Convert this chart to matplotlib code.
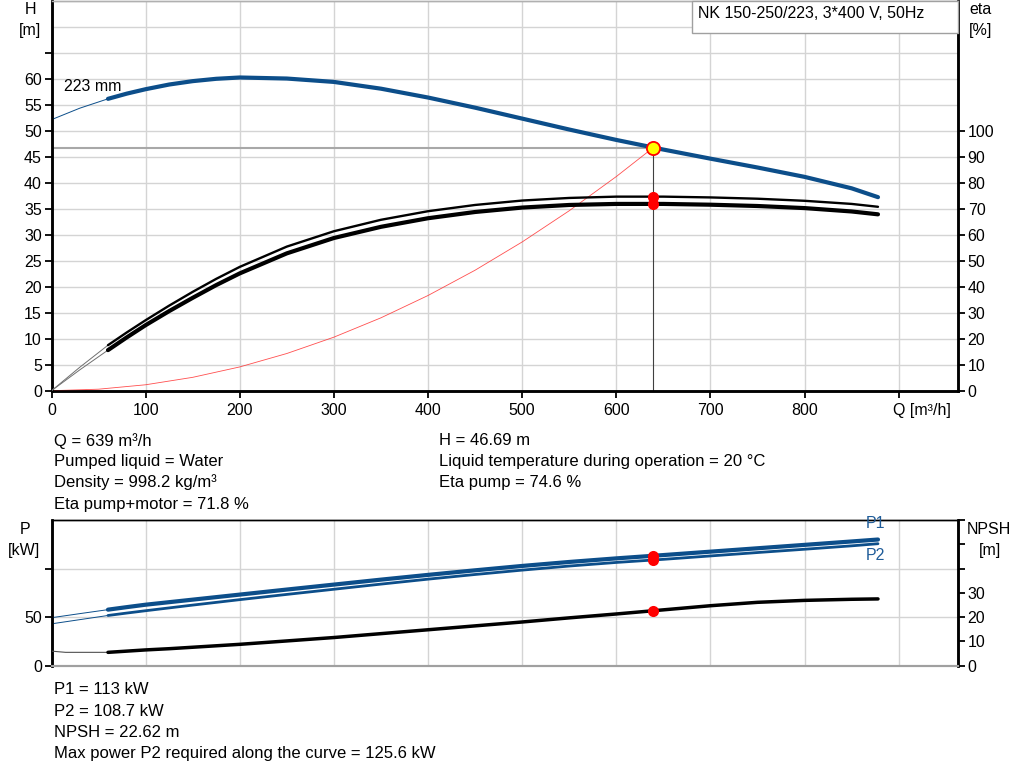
import matplotlib
matplotlib.use("Agg")
import matplotlib.pyplot as plt
import matplotlib.transforms as mtransforms
from matplotlib.patches import Rectangle

plt.rcParams['font.family'] = ['Liberation Sans', 'DejaVu Sans']

# ---------------- data ----------------
Q = [60, 80, 100, 125, 150, 175, 200, 250, 300, 350, 400, 450, 500, 550, 600, 650, 700, 750, 800, 850, 878]
H = [56.1, 57.1, 57.95, 58.85, 59.5, 59.95, 60.2, 60.0, 59.35, 58.05, 56.35, 54.4, 52.3, 50.2, 48.2, 46.35, 44.6, 42.9, 41.1, 38.9, 37.2]
eta_pump = [17.5, 22.4, 27.1, 32.7, 38.0, 43.0, 47.6, 55.4, 61.3, 65.7, 69.0, 71.4, 73.1, 74.1, 74.6, 74.6, 74.3, 73.8, 73.0, 71.8, 70.7]
eta_total = [15.6, 20.5, 25.2, 30.6, 35.7, 40.6, 45.1, 52.8, 58.7, 63.0, 66.3, 68.7, 70.4, 71.4, 71.8, 71.8, 71.5, 71.0, 70.2, 68.9, 67.8]
P1 = [57.7, 60.3, 62.8, 65.4, 68.0, 70.6, 73.2, 78.4, 83.5, 88.6, 93.5, 98.2, 102.7, 106.8, 110.5, 113.9, 117.4, 120.9, 124.4, 127.9, 129.9]
P2 = [51.7, 54.2, 56.6, 59.5, 62.4, 65.2, 68.0, 73.4, 78.7, 84.0, 89.1, 93.9, 98.4, 102.6, 106.3, 109.5, 113.0, 116.5, 119.9, 123.4, 125.6]
NPSH = [5.5, 6.0, 6.5, 7.0, 7.6, 8.2, 8.8, 10.2, 11.6, 13.2, 14.8, 16.4, 18.0, 19.7, 21.3, 23.0, 24.7, 26.1, 26.9, 27.35, 27.5]

# thin extensions towards Q = 0
Q_ext = [0, 30, 60]
H_ext = [52.1, 54.3, 56.1]
eta_pump_ext = [0, 9.0, 17.5]
eta_total_ext = [0, 8.0, 15.6]
P1_ext = [49.4, 53.6, 57.7]
P2_ext = [43.1, 47.4, 51.7]
Q_npsh_ext = [0, 15, 60]
NPSH_ext = [6.0, 5.5, 5.5]

# system curve
Q_sys = [0, 50, 100, 150, 200, 250, 300, 350, 400, 450, 500, 550, 600, 639]
H_sys = [0, 0.29, 1.14, 2.57, 4.57, 7.15, 10.29, 14.01, 18.30, 23.16, 28.59, 34.59, 41.16, 46.69]

# operating point
Q_op = 639
H_op = 46.69
eta_pump_op = 74.6
eta_total_op = 71.8
P1_op = 113
P2_op = 108.7
NPSH_op = 22.62

x_ticks = [0, 100, 200, 300, 400, 500, 600, 700, 800, 900]
x_labels = ['0', '100', '200', '300', '400', '500', '600', '700', '800', 'Q [m³/h]']
H_ticks = [0, 5, 10, 15, 20, 25, 30, 35, 40, 45, 50, 55, 60, 65]
H_labels = ['0', '5', '10', '15', '20', '25', '30', '35', '40', '45', '50', '55', '60', '']
H_minor = [70]
eta_ticks = [0, 10, 20, 30, 40, 50, 60, 70, 80, 90, 100]
P_ticks = [0, 50, 100]
P_labels = ['0', '50', '']
NPSH_ticks = [0, 10, 20, 30, 40, 50, 60]
NPSH_labels = ['0', '10', '20', '30', '', '', '']

info_left = ['Q = 639 m³/h', 'Pumped liquid = Water', 'Density = 998.2 kg/m³', 'Eta pump+motor = 71.8 %']
info_right = ['H = 46.69 m', 'Liquid temperature during operation = 20 °C', 'Eta pump = 74.6 %']
info_bottom = ['P1 = 113 kW', 'P2 = 108.7 kW', 'NPSH = 22.62 m', 'Max power P2 required along the curve = 125.6 kW']
title_box = 'NK 150-250/223, 3*400 V, 50Hz'
curve_label = '223 mm'

# ---------------- styles ----------------
BLUE = '#0c4e8a'
GRID = '#d4d4d4'
FS = 11.5
W, Hpx = 1024, 781

def fx(px):
    return px / W

def fy(py):
    return 1 - py / Hpx

fig = plt.figure(figsize=(10.24, 7.81), dpi=100)

L, R = 51.5, 958
ax = fig.add_axes([fx(L), fy(390.7), fx(R - L), (390.7 - 0.5) / Hpx])
ax_eta = ax.twinx()

ax.set_xlim(0, 963)
ax.set_ylim(0, 75)
ax_eta.set_ylim(0, 150)

ax.set_xticks(x_ticks)
ax.set_xticklabels(x_labels)
ax.set_yticks(H_ticks)
ax.set_yticklabels(H_labels)
ax.set_yticks(H_minor, minor=True)
ax.grid(True, which='both', color=GRID, linewidth=1.0, zorder=0)
ax.set_axisbelow(True)
ax_eta.set_yticks(eta_ticks)

for a in (ax, ax_eta):
    a.tick_params(axis='both', direction='out', length=5, width=1.3, labelsize=FS, pad=2, color='black')
ax.tick_params(axis='y', which='minor', length=0)
ax.tick_params(axis='x', pad=4)

# shift the 'Q [m³/h]' label to start near its tick
lbls = ax.get_xticklabels()
lbls[-1].set_ha('left')
lbls[-1].set_transform(lbls[-1].get_transform() + mtransforms.ScaledTranslation(-6 / 100, 0, fig.dpi_scale_trans))

for a in (ax, ax_eta):
    a.spines['left'].set_linewidth(1.8)
    a.spines['right'].set_linewidth(1.8)
    a.spines['bottom'].set_linewidth(1.8)
    a.spines['top'].set_color('#b0b0b0')
    a.spines['top'].set_linewidth(1.0)

# H curve
ax.plot(Q_ext, H_ext, color=BLUE, linewidth=0.7, zorder=3)
ax.plot(Q, H, color=BLUE, linewidth=3.0, solid_capstyle='round', solid_joinstyle='round', zorder=4)
# system curve
ax.plot(Q_sys, H_sys, color='#ff3030', linewidth=0.6, alpha=0.85, zorder=3)
# operating lines
ax.plot([0, Q_op], [H_op, H_op], color='#a8a8a8', linewidth=1.5, zorder=2)
ax.plot([Q_op, Q_op], [0, H_op], color='#404040', linewidth=0.8, zorder=2)
ax.text(13.3, 58.5, curve_label, fontsize=FS, ha='left', va='center', zorder=5)

# eta curves
ax_eta.plot(Q_ext, eta_pump_ext, color='#707070', linewidth=0.7, zorder=3)
ax_eta.plot(Q_ext, eta_total_ext, color='#707070', linewidth=0.7, zorder=3)
ax_eta.plot(Q, eta_pump, color='black', linewidth=1.7, solid_capstyle='round', solid_joinstyle='round', zorder=4)
ax_eta.plot(Q, eta_total, color='black', linewidth=3.0, solid_capstyle='round', solid_joinstyle='round', zorder=4)
ax_eta.plot([Q_op, Q_op], [eta_pump_op, eta_total_op], 'o', color='red', markersize=8, markeredgewidth=0, zorder=6)
ax_eta.plot([Q_op], [H_op], 'o', transform=ax.transData, markersize=9.5, markerfacecolor='#ffff00',
            markeredgecolor='red', markeredgewidth=1.3, zorder=7)

# axis labels (top)
fig.text(fx(30), fy(10), 'H', fontsize=FS, ha='center', va='center')
fig.text(fx(30), fy(31), '[m]', fontsize=FS, ha='center', va='center')
fig.text(fx(981), fy(10), 'eta', fontsize=FS, ha='center', va='center')
fig.text(fx(981), fy(30), '[%]', fontsize=FS, ha='center', va='center')

# title box
fig.patches.append(Rectangle((fx(692), fy(32.7)), fx(958 - 692), 32.2 / Hpx, transform=fig.transFigure,
                             facecolor='white', edgecolor='#a0a0a0', linewidth=1.0, zorder=10))
fig.text(fx(698), fy(14), title_box, fontsize=FS, ha='left', va='center', zorder=11)

# info text
ys_info = [440.7, 461.5, 482.5, 504]
for s, yy in zip(info_left, ys_info):
    fig.text(fx(54), fy(yy), s, fontsize=12, ha='left', va='center')
for s, yy in zip(info_right, ys_info):
    fig.text(fx(439), fy(yy), s, fontsize=12, ha='left', va='center')

# ---------------- bottom panel ----------------
axp = fig.add_axes([fx(L), fy(665.7), fx(R - L), (665.7 - 520) / Hpx])
axn = axp.twinx()
axp.set_xlim(0, 963)
axp.set_ylim(0, 150)
axn.set_ylim(0, 60)
axp.set_xticks(x_ticks)
axp.set_xticklabels([])
axp.set_yticks(P_ticks)
axp.set_yticklabels(P_labels)
axn.set_yticks(NPSH_ticks)
axn.set_yticklabels(NPSH_labels)
axp.grid(True, color=GRID, linewidth=1.0, zorder=0)
axp.set_axisbelow(True)
for a in (axp, axn):
    a.tick_params(axis='y', direction='out', length=5, width=1.3, labelsize=FS, pad=2)
    a.tick_params(axis='x', length=0)
    a.spines['left'].set_linewidth(1.8)
    a.spines['right'].set_linewidth(1.8)
    a.spines['top'].set_linewidth(1.0)
    a.spines['bottom'].set_color('#a0a0a0')
    a.spines['bottom'].set_linewidth(1.5)

axp.plot(Q_ext, P1_ext, color=BLUE, linewidth=0.7, zorder=3)
axp.plot(Q_ext, P2_ext, color=BLUE, linewidth=0.7, zorder=3)
axp.plot(Q, P1, color=BLUE, linewidth=3.0, solid_capstyle='round', solid_joinstyle='round', zorder=4)
axp.plot(Q, P2, color=BLUE, linewidth=2.0, solid_capstyle='round', solid_joinstyle='round', zorder=4)
axp.plot([Q_op, Q_op], [P1_op, P2_op], 'o', color='red', markersize=8, markeredgewidth=0, zorder=6)

axn.plot(Q_npsh_ext, NPSH_ext, color='#505050', linewidth=0.8, zorder=3)
axn.plot(Q, NPSH, color='black', linewidth=2.5, solid_capstyle='round', solid_joinstyle='round', zorder=4)
axn.plot([Q_op], [NPSH_op], 'o', color='red', markersize=8, markeredgewidth=0, zorder=6)

fig.text(fx(866), fy(523.5), 'P1', fontsize=FS, ha='left', va='center', color='#1f5c99')
fig.text(fx(866), fy(555), 'P2', fontsize=FS, ha='left', va='center', color='#1f5c99')
fig.text(fx(25), fy(529), 'P', fontsize=FS, ha='center', va='center')
fig.text(fx(24), fy(550), '[kW]', fontsize=FS, ha='center', va='center')
fig.text(fx(967), fy(529), 'NPSH', fontsize=FS, ha='left', va='center')
fig.text(fx(990), fy(550), '[m]', fontsize=FS, ha='center', va='center')

ys_bot = [690, 711, 732.3, 753.5]
for s, yy in zip(info_bottom, ys_bot):
    fig.text(fx(54), fy(yy), s, fontsize=12, ha='left', va='center')

fig.savefig('out.png', dpi=100)
